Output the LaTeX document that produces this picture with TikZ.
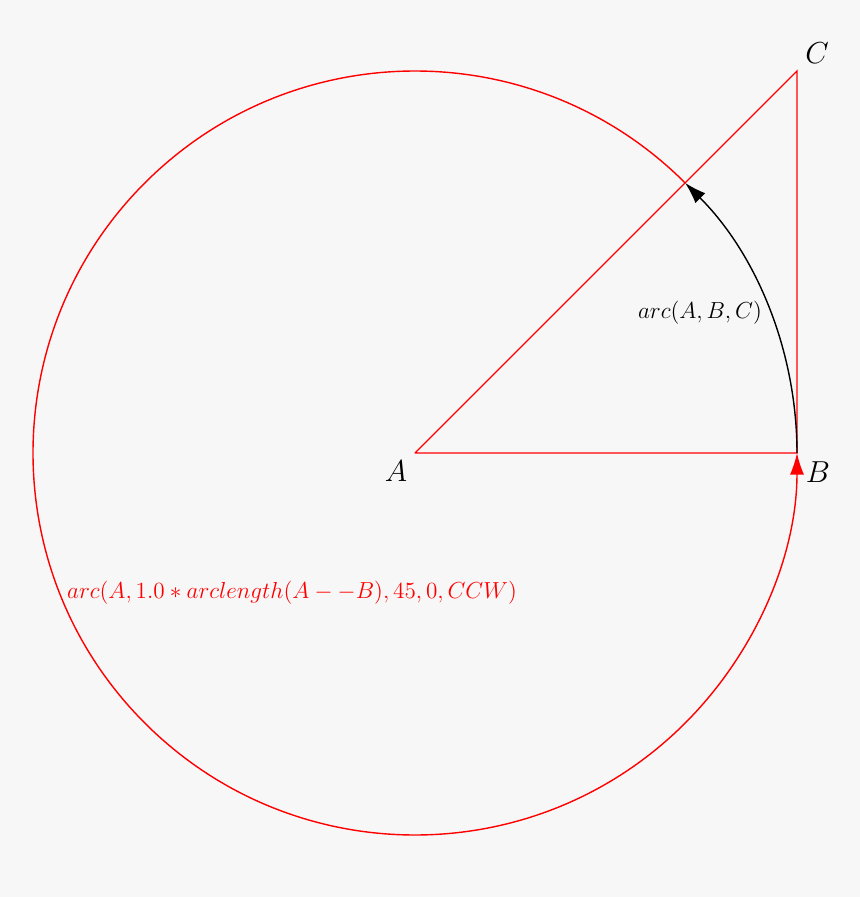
\documentclass[tikz,border=0pt]{standalone}
\usetikzlibrary{arrows.meta, positioning}
\definecolor{bggray}{HTML}{F7F7F7}

\begin{document}
\begin{tikzpicture} [%
    >= { Latex[length=4.3mm, width=2.8mm] },
    thick,
    redline/.style = {draw = red},
    ptlabel/.style = {font = \LARGE},
    arclabel/.style = {font = \large, scale = 1.1}
  ]

  \fill[bggray] (-8.3,-8.88) rectangle (8.9,9.06);
  \useasboundingbox (-8.3,-8.88) rectangle (8.9,9.06);

  \coordinate (A) at (0,0);
  \coordinate (B) at (7.64,0);
  \coordinate (C) at (7.64,7.64);
  \coordinate (D) at (45:7.64);

  \node[ptlabel] (LA) at (-0.38,-0.36) {$A$};
  \node[ptlabel] (LB) at (8.06,-0.38) {$B$};
  \node[ptlabel] (LC) at (8.04,8.0) {$C$};

  % triangle
  \draw[redline] (A) -- (B) -- (C) -- (A);

  % big arc round A
  \draw[redline, ->] (D) arc[start angle=45, end angle=360, radius=7.64];
  \node[arclabel, text=red] (LRED) at (-2.46,-2.8)
    {$arc(A, 1.0*arclength(A--B), 45, 0, CCW)$};

  % small arc B to C
  \draw[->] (B) arc[start angle=0, end angle=45, radius=7.64];
  \node[arclabel] (LARC) at (5.7,2.8) {$arc(A,B,C)$};

\end{tikzpicture}
\end{document}
